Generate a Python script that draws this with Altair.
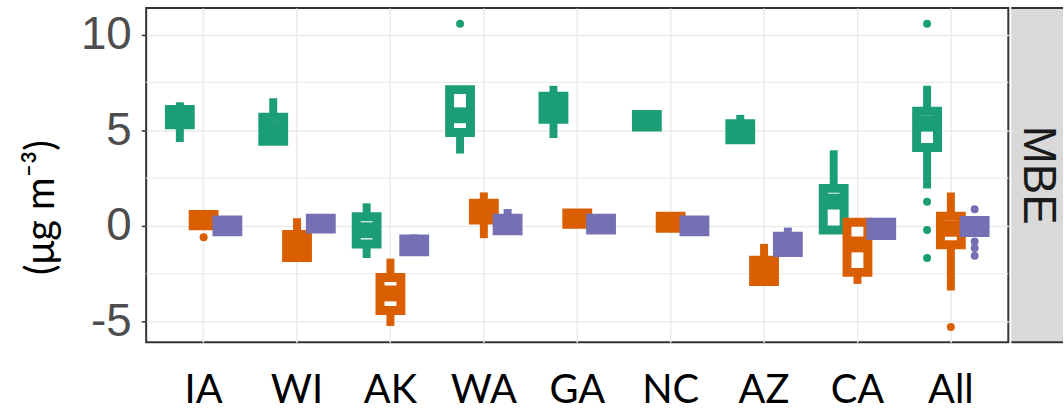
import altair as alt
import pandas as pd

categories = ["IA", "WI", "AK", "WA", "GA", "NC", "AZ", "CA", "All"]
groups = ["Model 1", "Model 2", "Model 3"]
colors = ["#1b9e77", "#d95f02", "#7570b3"]
panel_label = "MBE"
y_ticks = [-5, 0, 5, 10]
minor_grid = [-2.5, 2.5, 7.5]

# group 1 (green)
g1_lo = [4.38, 4.42, -1.68, 3.78, 4.59, 5.16, 4.50, -0.22, 1.96]
g1_q1 = [5.28, 4.42, -0.95, 4.88, 5.57, 5.16, 4.50, -0.22, 4.10]
g1_med = [5.70, 5.05, -0.23, 5.78, 6.17, 5.50, 4.90, 1.27, 5.34]
g1_q3 = [6.08, 5.68, 0.48, 7.12, 6.77, 5.82, 5.34, 1.96, 5.99]
g1_hi = [6.46, 6.67, 1.18, 7.12, 7.32, 5.82, 5.80, 3.95, 7.32]
# group 2 (orange)
g2_lo = [0.00, -1.65, -5.23, -0.64, 0.09, -0.12, -2.91, -3.03, -3.38]
g2_q1 = [0.00, -1.65, -4.42, 0.31, 0.09, -0.12, -2.91, -2.43, -0.99]
g2_med = [0.30, -1.05, -3.53, 0.75, 0.40, 0.20, -2.35, -0.97, -0.15]
g2_q3 = [0.59, -0.45, -2.70, 1.18, 0.68, 0.50, -1.80, 0.19, 0.50]
g2_hi = [0.59, 0.40, -1.71, 1.75, 0.68, 0.50, -0.94, 0.19, 1.75]
# group 3 (purple)
g3_lo = [-0.31, -0.17, -1.35, -0.26, -0.22, -0.31, -1.39, -0.50, -0.35]
g3_q1 = [-0.31, -0.17, -1.35, -0.26, -0.22, -0.31, -1.39, -0.50, -0.35]
g3_med = [0.00, 0.10, -1.00, 0.10, 0.10, 0.00, -0.95, -0.10, 0.00]
g3_q3 = [0.31, 0.40, -0.68, 0.40, 0.40, 0.31, -0.54, 0.19, 0.28]
g3_hi = [0.31, 0.40, -0.45, 0.88, 0.40, 0.31, -0.09, 0.19, 0.28]

# outliers
out_cat = ["WA", "IA", "All", "All", "All", "All", "All", "All", "All", "All", "All"]
out_grp = ["Model 1", "Model 2", "Model 1", "Model 1", "Model 1", "Model 1",
           "Model 2", "Model 3", "Model 3", "Model 3", "Model 3"]
out_val = [10.56, -0.59, 10.56, 1.26, -0.21, -1.68, -5.28, 0.87, -0.81, -1.16, -1.56]

stats = [
    (g1_lo, g1_q1, g1_med, g1_q3, g1_hi),
    (g2_lo, g2_q1, g2_med, g2_q3, g2_hi),
    (g3_lo, g3_q1, g3_med, g3_q3, g3_hi),
]
rows = []
for g, (lo, q1, med, q3, hi) in zip(groups, stats):
    for i, c in enumerate(categories):
        rows.append({"cat": c, "grp": g, "lo": lo[i], "q1": q1[i],
                     "med": med[i], "q3": q3[i], "hi": hi[i]})
box_df = pd.DataFrame(rows)
out_df = pd.DataFrame({"cat": out_cat, "grp": out_grp, "v": out_val})
minor_df = pd.DataFrame({"v": minor_grid})

W, H = 867, 336

xscale = alt.Scale(domain=categories, paddingInner=0.236, paddingOuter=0.233)
xaxis = alt.Axis(title=None, labelAngle=0, ticks=False, tickSize=0, domain=False,
                 labelFont="Lato", labelFontSize=40, labelColor="#000000",
                 labelPadding=29, grid=True, gridColor="#ebebeb", gridWidth=1.5,
                 bandPosition=0.5)
yscale = alt.Scale(domain=[-6.08, 11.38], nice=False, zero=False)
yaxis = alt.Axis(values=y_ticks, title="(μg m⁻³)", titleFont="Lato",
                 titleFontSize=40, titleFontWeight="normal", titleColor="#000000",
                 titlePadding=19, titleY=200,
                 labelExpr="'' + datum.value",
                 labelFont="Liberation Sans", labelFontSize=46, labelColor="#4d4d4d",
                 labelPadding=10, tickSize=5, tickColor="#333333", tickWidth=1.5,
                 domain=False, grid=True, gridColor="#ebebeb", gridWidth=1.5)

X = alt.X("cat:N", scale=xscale, axis=xaxis)
XO = alt.XOffset("grp:N", scale=alt.Scale(domain=groups))

layers = [
    alt.Chart(minor_df).mark_rule(color="#ebebeb", strokeWidth=1.2).encode(
        y=alt.Y("v:Q", scale=yscale, axis=yaxis)
    )
]
for g, col in zip(groups, colors):
    base = alt.Chart(box_df).transform_filter(alt.datum.grp == g)
    whisk = base.mark_rule(color=col, strokeWidth=8, strokeCap="butt").encode(
        x=X, xOffset=XO,
        y=alt.Y("lo:Q", scale=yscale, axis=yaxis), y2="hi:Q")
    box = base.mark_bar(width=21, fill="white", stroke=col, strokeWidth=9,
                        strokeJoin="miter", opacity=1).encode(
        x=X, xOffset=XO,
        y=alt.Y("q1:Q", scale=yscale, axis=yaxis), y2="q3:Q")
    med = base.mark_tick(color=col, thickness=16, size=21, opacity=1).encode(
        x=X, xOffset=XO,
        y=alt.Y("med:Q", scale=yscale, axis=yaxis))
    outs = alt.Chart(out_df).transform_filter(alt.datum.grp == g).mark_circle(
        color=col, size=64, opacity=1).encode(
        x=X, xOffset=XO,
        y=alt.Y("v:Q", scale=yscale, axis=yaxis))
    layers += [whisk, box, med, outs]

main = alt.layer(*layers).properties(
    width=W, height=H,
    view=alt.ViewBackground(stroke="#333333", strokeWidth=2),
)

strip_df = pd.DataFrame({"panel": [panel_label]})
strip_bg = alt.Chart(strip_df).mark_rect(fill="#d9d9d9").encode(
    x=alt.value(0), x2=alt.value(52), y=alt.value(0), y2=alt.value(H))
strip_top = alt.Chart(strip_df).mark_rect(fill="#333333").encode(
    x=alt.value(0), x2=alt.value(52), y=alt.value(-1), y2=alt.value(1))
strip_bot = alt.Chart(strip_df).mark_rect(fill="#333333").encode(
    x=alt.value(0), x2=alt.value(52), y=alt.value(H - 1), y2=alt.value(H + 1))
strip_txt = alt.Chart(strip_df).mark_text(
    angle=90, fontSize=46, font="Liberation Sans", color="#1a1a1a").encode(
    text="panel:N", x=alt.value(27), y=alt.value(H / 2))
strip = alt.layer(strip_bg, strip_top, strip_bot, strip_txt).properties(
    width=52, height=H,
    view=alt.ViewBackground(stroke="transparent"),
)

chart = alt.hconcat(main, strip, spacing=0).properties(
    padding={"left": 20, "top": 5, "right": 0, "bottom": 0},
    background="white",
)

chart.save("out.html", embed_options={"renderer": "svg", "actions": False})
